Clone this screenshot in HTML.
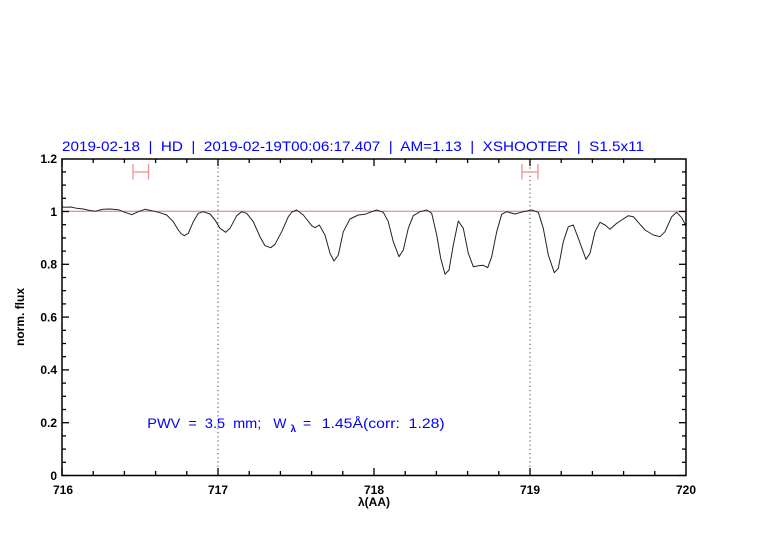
<!DOCTYPE html>
<html>
<head>
<meta charset="utf-8">
<style>
html,body{margin:0;padding:0;background:#fff;}
svg{display:block;}
text{font-family:"Liberation Sans",Arial,sans-serif;}
.pre{white-space:pre;}
</style>
</head>
<body>
<svg width="782" height="542" viewBox="0 0 782 542" xmlns="http://www.w3.org/2000/svg" xml:space="preserve">
<rect width="782" height="542" fill="#fff"/>

<!-- title -->
<text class="pre" x="62" y="151" font-size="14" fill="#0000ff" textLength="582" lengthAdjust="spacingAndGlyphs">2019-02-18  |  HD  |  2019-02-19T00:06:17.407  |  AM=1.13  |  XSHOOTER  |  S1.5x11</text>

<!-- reference line at 1 -->
<line x1="62" y1="211.3" x2="686" y2="211.3" stroke="#f06a6a" stroke-width="1"/>

<!-- dotted verticals -->
<line x1="218" y1="159" x2="218" y2="475" stroke="#444" stroke-width="1" stroke-dasharray="1.2,3"/>
<line x1="530" y1="159" x2="530" y2="475" stroke="#444" stroke-width="1" stroke-dasharray="1.2,3"/>

<!-- red error bars -->
<g stroke="#f59090" stroke-width="1.3" fill="none">
<line x1="133" y1="172" x2="148.5" y2="172"/>
<line x1="133" y1="164" x2="133" y2="179.5"/>
<line x1="148.5" y1="164" x2="148.5" y2="179.5"/>
<line x1="522" y1="172" x2="538" y2="172"/>
<line x1="522" y1="164" x2="522" y2="179.5"/>
<line x1="538" y1="164" x2="538" y2="179.5"/>
</g>

<!-- spectrum -->
<polyline fill="none" stroke="#222" stroke-width="1" stroke-linejoin="round" points="62,207 66,207.3 71,207 76.7,208.3 83.3,209 90,210.5 95,211.3 100,210 103.3,209.3 110,209 118.3,209.7 125,212.3 131.7,214.7 138.3,211.7 145,209.3 151.7,210.7 160,212.7 166.7,215 173.3,221.7 178.3,230 181,233.5 184.3,235.7 188.3,233.3 193.3,221.7 198.3,213.3 203.3,211.7 210,214 215,220 220,228.3 225.7,232.3 230,228.3 236.7,215.7 241.7,211.7 246.7,213.3 253.3,221.7 260,236.7 265,245.7 270.7,247.7 275,244.3 281.7,231.7 288.3,216.7 292,212 296.7,210 303.3,215 311.7,225.7 315,227.7 319.3,225 325,235 330,253.3 334,261 338.3,255 343.3,231.7 350,219 358.3,215 365,214.3 370,212.3 376.7,210 383.3,212.3 388.3,221.7 393.3,241.7 399,256.7 403.3,250 408.3,228.3 413.3,215.7 420,211.7 426.7,210 431.7,213.3 436.7,235 440.7,258.3 445,274.3 449,270 453.3,245 458.3,221 463.3,228.3 468.3,253.3 473.3,266.7 478.3,265.7 483.3,265.3 487.7,267.7 491.7,256.7 496.7,231.7 501.7,214.3 506.7,211.7 515,214 523.3,211.7 531.7,210 538.3,212.3 543.3,228.3 548.3,255 554.3,272.7 558.3,268.3 563.3,241.7 568.3,226.7 573.3,225 578.3,238.3 586,259.3 590,253.3 595,231.7 600,222.3 605,225 610,229.3 616.7,223.3 621.7,220 628.3,215.7 633.3,216.7 640,224.3 645,230 653.3,235 660,236.7 665,231.7 671.7,216.7 676.7,212.3 681.7,217.7 686,226"/>

<!-- frame -->
<rect x="62" y="159" width="624" height="316.5" fill="none" stroke="#000" stroke-width="1.5"/>

<!-- x ticks -->
<g stroke="#000" stroke-width="1.3">
<line x1="62" y1="475" x2="62" y2="468"/><line x1="62" y1="159" x2="62" y2="166"/>
<line x1="93.2" y1="475" x2="93.2" y2="471"/><line x1="93.2" y1="159" x2="93.2" y2="163"/>
<line x1="124.4" y1="475" x2="124.4" y2="471"/><line x1="124.4" y1="159" x2="124.4" y2="163"/>
<line x1="155.6" y1="475" x2="155.6" y2="471"/><line x1="155.6" y1="159" x2="155.6" y2="163"/>
<line x1="186.8" y1="475" x2="186.8" y2="471"/><line x1="186.8" y1="159" x2="186.8" y2="163"/>
<line x1="218" y1="475" x2="218" y2="468"/><line x1="218" y1="159" x2="218" y2="166"/>
<line x1="249.2" y1="475" x2="249.2" y2="471"/><line x1="249.2" y1="159" x2="249.2" y2="163"/>
<line x1="280.4" y1="475" x2="280.4" y2="471"/><line x1="280.4" y1="159" x2="280.4" y2="163"/>
<line x1="311.6" y1="475" x2="311.6" y2="471"/><line x1="311.6" y1="159" x2="311.6" y2="163"/>
<line x1="342.8" y1="475" x2="342.8" y2="471"/><line x1="342.8" y1="159" x2="342.8" y2="163"/>
<line x1="374" y1="475" x2="374" y2="468"/><line x1="374" y1="159" x2="374" y2="166"/>
<line x1="405.2" y1="475" x2="405.2" y2="471"/><line x1="405.2" y1="159" x2="405.2" y2="163"/>
<line x1="436.4" y1="475" x2="436.4" y2="471"/><line x1="436.4" y1="159" x2="436.4" y2="163"/>
<line x1="467.6" y1="475" x2="467.6" y2="471"/><line x1="467.6" y1="159" x2="467.6" y2="163"/>
<line x1="498.8" y1="475" x2="498.8" y2="471"/><line x1="498.8" y1="159" x2="498.8" y2="163"/>
<line x1="530" y1="475" x2="530" y2="468"/><line x1="530" y1="159" x2="530" y2="166"/>
<line x1="561.2" y1="475" x2="561.2" y2="471"/><line x1="561.2" y1="159" x2="561.2" y2="163"/>
<line x1="592.4" y1="475" x2="592.4" y2="471"/><line x1="592.4" y1="159" x2="592.4" y2="163"/>
<line x1="623.6" y1="475" x2="623.6" y2="471"/><line x1="623.6" y1="159" x2="623.6" y2="163"/>
<line x1="654.8" y1="475" x2="654.8" y2="471"/><line x1="654.8" y1="159" x2="654.8" y2="163"/>
</g>

<!-- y ticks (every 0.05, major every 0.2) -->
<g stroke="#000" stroke-width="1.3">
<line x1="62" y1="475.5" x2="69" y2="475.5"/><line x1="686" y1="475.5" x2="679" y2="475.5"/>
<line x1="62" y1="462.3" x2="66" y2="462.3"/><line x1="686" y1="462.3" x2="682" y2="462.3"/>
<line x1="62" y1="449.1" x2="66" y2="449.1"/><line x1="686" y1="449.1" x2="682" y2="449.1"/>
<line x1="62" y1="435.9" x2="66" y2="435.9"/><line x1="686" y1="435.9" x2="682" y2="435.9"/>
<line x1="62" y1="422.7" x2="69" y2="422.7"/><line x1="686" y1="422.7" x2="679" y2="422.7"/>
<line x1="62" y1="409.5" x2="66" y2="409.5"/><line x1="686" y1="409.5" x2="682" y2="409.5"/>
<line x1="62" y1="396.3" x2="66" y2="396.3"/><line x1="686" y1="396.3" x2="682" y2="396.3"/>
<line x1="62" y1="383.1" x2="66" y2="383.1"/><line x1="686" y1="383.1" x2="682" y2="383.1"/>
<line x1="62" y1="369.9" x2="69" y2="369.9"/><line x1="686" y1="369.9" x2="679" y2="369.9"/>
<line x1="62" y1="356.7" x2="66" y2="356.7"/><line x1="686" y1="356.7" x2="682" y2="356.7"/>
<line x1="62" y1="343.5" x2="66" y2="343.5"/><line x1="686" y1="343.5" x2="682" y2="343.5"/>
<line x1="62" y1="330.3" x2="66" y2="330.3"/><line x1="686" y1="330.3" x2="682" y2="330.3"/>
<line x1="62" y1="317.1" x2="69" y2="317.1"/><line x1="686" y1="317.1" x2="679" y2="317.1"/>
<line x1="62" y1="303.9" x2="66" y2="303.9"/><line x1="686" y1="303.9" x2="682" y2="303.9"/>
<line x1="62" y1="290.7" x2="66" y2="290.7"/><line x1="686" y1="290.7" x2="682" y2="290.7"/>
<line x1="62" y1="277.5" x2="66" y2="277.5"/><line x1="686" y1="277.5" x2="682" y2="277.5"/>
<line x1="62" y1="264.3" x2="69" y2="264.3"/><line x1="686" y1="264.3" x2="679" y2="264.3"/>
<line x1="62" y1="251.1" x2="66" y2="251.1"/><line x1="686" y1="251.1" x2="682" y2="251.1"/>
<line x1="62" y1="237.9" x2="66" y2="237.9"/><line x1="686" y1="237.9" x2="682" y2="237.9"/>
<line x1="62" y1="224.7" x2="66" y2="224.7"/><line x1="686" y1="224.7" x2="682" y2="224.7"/>
<line x1="62" y1="211.5" x2="69" y2="211.5"/><line x1="686" y1="211.5" x2="679" y2="211.5"/>
<line x1="62" y1="198.3" x2="66" y2="198.3"/><line x1="686" y1="198.3" x2="682" y2="198.3"/>
<line x1="62" y1="185.1" x2="66" y2="185.1"/><line x1="686" y1="185.1" x2="682" y2="185.1"/>
<line x1="62" y1="171.9" x2="66" y2="171.9"/><line x1="686" y1="171.9" x2="682" y2="171.9"/>
</g>

<!-- y tick labels -->
<g font-size="12" fill="#000" text-anchor="end" font-weight="bold">
<text x="57" y="480">0</text>
<text x="57" y="427">0.2</text>
<text x="57" y="374">0.4</text>
<text x="57" y="321.5">0.6</text>
<text x="57" y="268.5">0.8</text>
<text x="57" y="216">1</text>
<text x="57" y="163">1.2</text>
</g>

<!-- x tick labels -->
<g font-size="12" fill="#000" text-anchor="middle" font-weight="bold">
<text x="63" y="494">716</text>
<text x="218" y="494">717</text>
<text x="374" y="494">718</text>
<text x="530" y="494">719</text>
<text x="686" y="494">720</text>
</g>

<!-- axis labels -->
<text x="374" y="506" font-size="12" text-anchor="middle" font-weight="bold">λ(AA)</text>
<text transform="translate(24,317) rotate(-90)" font-size="12" text-anchor="middle" font-weight="bold">norm. flux</text>

<!-- PWV annotation -->
<g fill="#0000ff" font-size="14">
<text class="pre" x="147.3" y="428" textLength="114" lengthAdjust="spacingAndGlyphs">PWV  =  3.5  mm;</text>
<text x="273.3" y="428">W</text>
<text x="290.5" y="432" font-size="10" font-weight="bold">λ</text>
<text x="303" y="428">=</text>
<text class="pre" x="321.7" y="428" textLength="123" lengthAdjust="spacingAndGlyphs">1.45Å(corr:  1.28)</text>
</g>
</svg>
</body>
</html>
